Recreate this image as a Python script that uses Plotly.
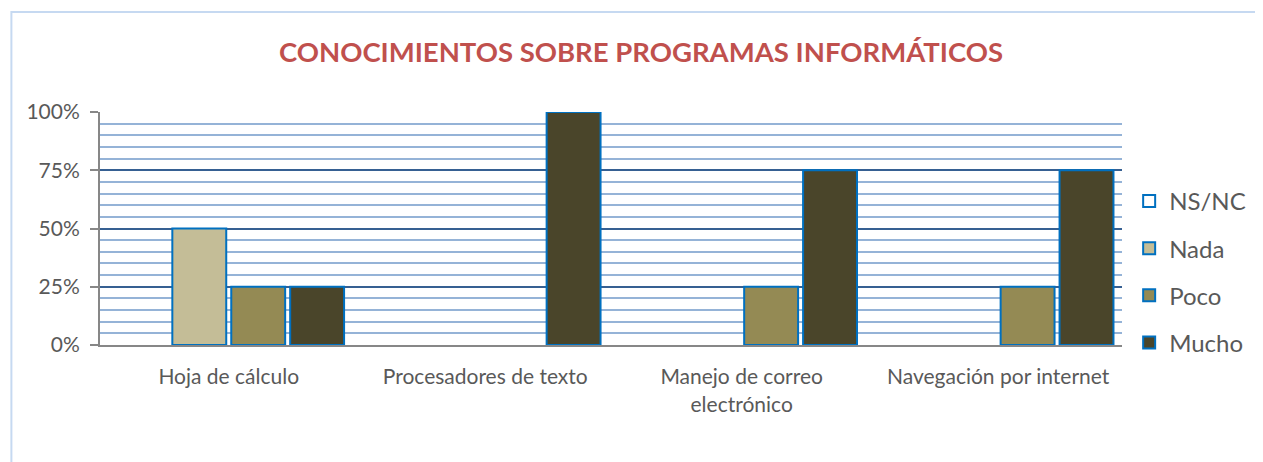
import plotly.graph_objects as go

categories = ["Hoja de cálculo", "Procesadores de texto", "Manejo de correo<br>electrónico", "Navegación por internet"]
series_names = ["NS/NC", "Nada", "Poco", "Mucho"]
ns_nc = [0, 0, 0, 0]
nada = [0.50, 0, 0, 0]
poco = [0.25, 0, 0.25, 0.25]
mucho = [0.25, 1.00, 0.75, 0.75]
y_ticks = [0, 0.25, 0.5, 0.75, 1.0]
y_tick_labels = ["0%", "25%", "50%", "75%", "100%"]

colors = ["#FFFFFF", "#C4BD97", "#948A54", "#4A452A"]
values = [ns_nc, nada, poco, mucho]

fig = go.Figure()
for name, vals, col in zip(series_names, values, colors):
    # zero-height bars are not drawn (as in the original chart)
    shown = [v if v > 0 else None for v in vals]
    fig.add_trace(go.Bar(
        x=categories, y=shown, name=name, legendgroup=name,
        marker=dict(color=col, line=dict(color="#0070C0", width=2)),
    ))

FONT = "Lato"
fig.update_layout(
    width=1255, height=454,
    margin=dict(l=92, r=136, t=104, b=117),
    paper_bgcolor="white", plot_bgcolor="white",
    barmode="group", bargap=0.081, bargroupgap=0.085,
    font=dict(family=FONT, color="#595959", size=21),
    title=dict(text="<b>CONOCIMIENTOS SOBRE PROGRAMAS INFORMÁTICOS</b>",
               x=0.5044, xanchor="center", y=0.903, yanchor="middle",
               font=dict(family=FONT, size=27.5, color="#C0504D")),
    legend=dict(x=1.007, y=0.713, xanchor="left", yanchor="top",
                font=dict(family=FONT, size=24, color="#595959"),
                tracegroupgap=13, bgcolor="rgba(0,0,0,0)"),
    showlegend=True,
)
fig.update_yaxes(
    range=[0, 1.0], tickvals=y_ticks, ticktext=y_tick_labels,
    showgrid=True, gridcolor="#366092", gridwidth=1.5,
    minor=dict(dtick=0.05, showgrid=True, gridcolor="#95B3D7", gridwidth=2, ticks=""),
    showline=True, linecolor="#878787", linewidth=2,
    ticks="outside", ticklen=8, tickwidth=2, tickcolor="#878787",
    zeroline=False, tickfont=dict(size=21, color="#595959"),
    ticklabelstandoff=6,
)
fig.update_xaxes(
    range=[-0.502, 3.483],
    showline=True, linecolor="#878787", linewidth=2, ticks="",
    showgrid=False, tickfont=dict(size=21, color="#595959"),
    ticklabelstandoff=12,
)
fig.add_shape(type="rect", xref="paper", yref="paper",
              x0=-0.0867, x1=1.3, y0=-0.7, y1=1.429,
              line=dict(color="#C6D9F1", width=2), fillcolor="rgba(0,0,0,0)", layer="below")

fig.write_html("out.html")
